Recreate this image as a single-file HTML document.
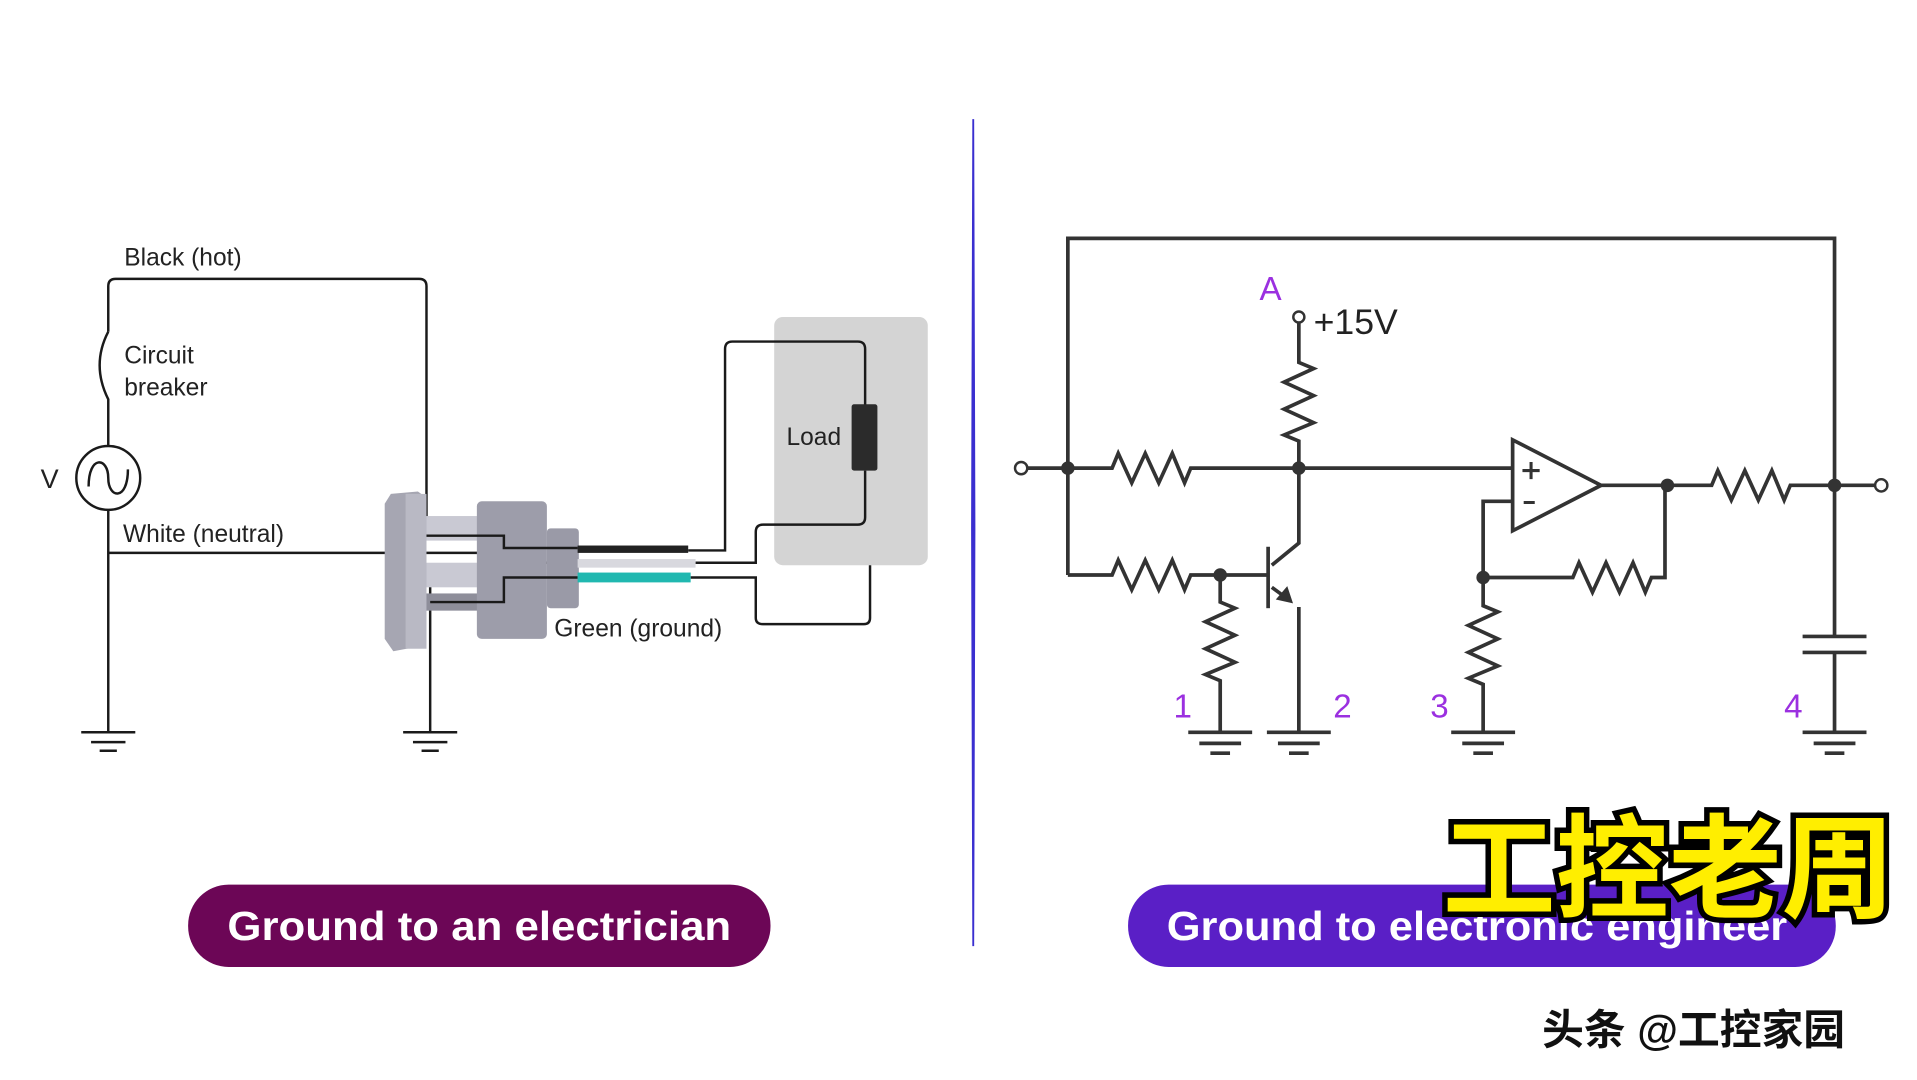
<!DOCTYPE html>
<html><head><meta charset="utf-8"><style>
html,body{margin:0;padding:0;background:#fff;width:1917px;height:1080px;overflow:hidden}
svg{display:block}
</style></head><body>
<svg width="1917" height="1080" viewBox="0 0 1560 879" xmlns="http://www.w3.org/2000/svg">
<rect width="1560" height="879" fill="#fff"/>
<g font-family="'Liberation Sans',sans-serif" fill="#222">
<!-- LEFT -->
<rect x="630" y="258" width="125" height="202" rx="7" fill="#d4d4d4"/>
<g fill="none" stroke="#1a1a1a" stroke-width="2">
<path d="M88,270 V233 Q88,227 94,227 H341 Q347,227 347,233 V431 H410 V446"/>
<path d="M88,270 Q74,297 88,325 V363"/>
<path d="M88,415 V596"/>
<path d="M88,450 H400 V458 H470"/>
<path d="M350,475 V596"/>
<path d="M560,448 H590 V284 Q590,278 596,278 H698 Q704,278 704,284 V330"/>
<path d="M704,383 V421 Q704,427 698,427 H621 Q615,427 615,433 V458 H566"/>
<path d="M562,470 H615 V503 Q615,508 621,508 H703 Q708,508 708,503 V460"/>
<circle cx="88" cy="389" r="26"/>
<path d="M72,396 C72,370 88,372 88,389 C88,406 104,408 104,382"/>
<path d="M66,596 H110 M74,604 H102 M81,611 H95"/>
<path d="M328,596 H372 M336,604 H364 M343,611 H357"/>
</g>
<rect x="693" y="329" width="21" height="54" rx="2" fill="#2b2b2b"/>
<!-- plug -->
<path d="M318,402 L340,400 L347,405 V525 L320,530 L313,520 V410 Z" fill="#a6a6b2"/>
<rect x="330" y="402" width="17" height="126" fill="#b9b9c4"/>
<rect x="347" y="420" width="45" height="20" fill="#c9c9d3"/>
<rect x="347" y="458" width="45" height="20" fill="#c9c9d3"/>
<rect x="347" y="483" width="45" height="14" fill="#8e8e9a"/>
<rect x="388" y="408" width="57" height="112" rx="4" fill="#9d9daa"/>
<rect x="445" y="430" width="26" height="65" rx="3" fill="#9a9aa7"/>
<g fill="none" stroke="#1a1a1a" stroke-width="2">
<path d="M347,436 H410 V446 H470"/>
<path d="M350,490 H410 V470 H470"/>
</g>
<rect x="470" y="444" width="90" height="6" fill="#222"/>
<rect x="470" y="455" width="96" height="7" fill="#d8d8de"/>
<rect x="470" y="466" width="92" height="8" fill="#20b8b0"/>
<g font-size="20">
<text x="101" y="216">Black (hot)</text>
<text x="101" y="296">Circuit</text>
<text x="101" y="322">breaker</text>
<text x="33" y="397" font-size="22">V</text>
<text x="100" y="441">White (neutral)</text>
<text x="640" y="362">Load</text>
<text x="451" y="518">Green (ground)</text>
</g>
<!-- divider -->
<path d="M792,97 L793,430 L792,770 L791,430 Z" fill="#3a2fd0" stroke="#3a2fd0" stroke-width="1.5"/>
<!-- RIGHT -->
<g fill="none" stroke="#333" stroke-width="3">
<path d="M869,468 V194 H1493 V518"/>
<path d="M836,381 H905 l5,-12 l11,24 l11,-24 l11,24 l11,-24 l10,24 l5,-12 H1231"/>
<path d="M1057,262 V295 l12,5 l-24,11 l24,11 l-24,11 l24,11 l-24,10 l12,5 V442 L1035,460"/>
<path d="M1032,445 V495"/>
<path d="M1035,478 L1050,489 M1057,494 V596"/>
<path d="M869,468 H905 l5,-12 l11,24 l11,-24 l11,24 l11,-24 l10,24 l5,-12 H1032"/>
<path d="M993,468 V490 l12,5 l-24,11 l24,11 l-24,11 l24,11 l-24,10 l12,5 V596"/>
<path d="M1231,358 V432 L1303,395 Z"/>
<path d="M1303,395 H1393 l5,-12 l11,24 l11,-24 l11,24 l11,-24 l10,24 l5,-12 H1526"/>
<path d="M1231,408 H1207 V493 l12,5 l-24,11 l24,11 l-24,11 l24,11 l-24,10 l12,5 V596"/>
<path d="M1207,470 H1280 l5,-12 l11,24 l11,-24 l11,24 l11,-24 l10,24 l5,-12 H1355 V395"/>
<path d="M1467,518 H1519 M1467,531 H1519 M1493,531 V596"/>
<path d="M967,596 H1019 M976,605 H1010 M985,613 H1001"/>
<path d="M1031,596 H1083 M1040,605 H1074 M1049,613 H1065"/>
<path d="M1181,596 H1233 M1190,605 H1224 M1199,613 H1215"/>
<path d="M1467,596 H1519 M1476,605 H1510 M1485,613 H1501"/>
</g>
<path d="M1050,489 L1041,487 L1047,480 Z" fill="#333" stroke="#333" stroke-width="3"/>
<g fill="#fff" stroke="#333" stroke-width="2">
<circle cx="831" cy="381" r="5"/><circle cx="1531" cy="395" r="5"/><circle cx="1057" cy="258" r="4.5"/>
</g>
<g fill="#333">
<circle cx="869" cy="381" r="5.5"/><circle cx="1057" cy="381" r="5.5"/><circle cx="993" cy="468" r="5.5"/>
<circle cx="1207" cy="470" r="5.5"/><circle cx="1357" cy="395" r="5.5"/><circle cx="1493" cy="395" r="5.5"/>
</g>
<g stroke="#333" stroke-width="2.5"><path d="M1239,383 H1253 M1246,376 V390 M1240,409 H1249"/></g>
<text x="1069" y="272" font-size="29" fill="#222">+15V</text>
<g font-size="27" fill="#9b30e0">
<text x="1025" y="244">A</text>
<text x="955" y="584">1</text><text x="1085" y="584">2</text>
<text x="1164" y="584">3</text><text x="1452" y="584">4</text>
</g>
<!-- buttons -->
<rect x="153" y="720" width="474" height="67" rx="33" fill="#6c0656"/>
<text x="390" y="765" text-anchor="middle" font-size="33" font-weight="bold" fill="#fff" textLength="410" lengthAdjust="spacingAndGlyphs">Ground to an electrician</text>
<rect x="918" y="720" width="576" height="67" rx="33" fill="#5a1fc6"/>
<text x="1202" y="765" text-anchor="middle" font-size="33" font-weight="bold" fill="#fff" textLength="505" lengthAdjust="spacingAndGlyphs">Ground to electronic engineer</text>
<text x="1358" y="740" text-anchor="middle" font-size="92" font-weight="bold" fill="#ffee00" stroke="#000" stroke-width="9" paint-order="stroke" font-family="'Noto Sans CJK SC',sans-serif">工控老周</text>
<text x="1255" y="850" font-size="34" font-weight="bold" fill="#111" stroke="#fff" stroke-width="1" paint-order="stroke" font-family="'Liberation Sans','Noto Sans CJK SC',sans-serif">头条 @工控家园</text>
</g>
</svg>
</body></html>
